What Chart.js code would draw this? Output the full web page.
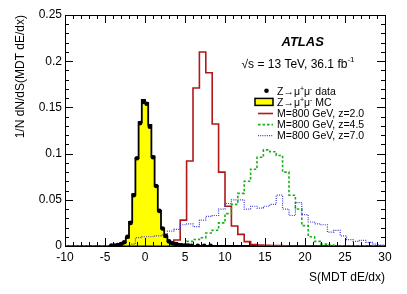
<!DOCTYPE html>
<html>
<head>
<meta charset="utf-8">
<script src="https://cdn.jsdelivr.net/npm/chart.js@4.4.1/dist/chart.umd.min.js"></script>
<style>
  html, body { margin: 0; padding: 0; background: #fff; }
  canvas { display: block; }
</style>
</head>
<body>
<canvas id="myChart" width="407" height="294"></canvas>
<script>
'use strict';

// Z->mumu data and MC, bins of 0.4 starting at -4.4
let zStart = -4.4;
let zWidth = 0.4;
let zMC = [0.0005, 0.001, 0.0015, 0.002, 0.004, 0.009, 0.026, 0.056, 0.095, 0.134, 0.158,
  0.155, 0.131, 0.097, 0.065, 0.038, 0.019, 0.010, 0.005, 0.003, 0.002, 0.001];
let zData = [0.0004, 0.0006, 0.001, 0.002, 0.004, 0.010, 0.025, 0.055, 0.095, 0.133, 0.156,
  0.154, 0.129, 0.096, 0.065, 0.038, 0.019, 0.011, 0.005, 0.003, 0.002, 0.001,
  0.0008, 0.0005, 0.0004, 0.0003, null, 0.0003, null, 0.0002, null, 0.0002];

// signal samples, bins of 0.8
let sigWidth = 0.8;
let z20Start = 3.6;
let z20 = [0.0065, 0.028, 0.092, 0.171, 0.21, 0.1875, 0.132, 0.080, 0.043, 0.0216, 0.0126,
  0.0047, 0.0015, 0.001, 0.0008, 0.0005, 0.0004, 0.0003];
let z45Start = 4.4;
let z45 = [0.002, 0.005, 0.007, 0.009, 0.014, 0.017, 0.025, 0.035, 0.045, 0.057, 0.070, 0.083,
  0.096, 0.104, 0.102, 0.098, 0.080, 0.055, 0.040, 0.022, 0.010, 0.005, 0.002, 0.001];
let z70Start = -2.0;
let z70 = [0.002, 0.009, 0.010, 0.010, 0.011, 0.012, 0.016, 0.018, 0.023, 0.024, 0.021, 0.028,
  0.032, 0.033, 0.040, 0.046, 0.050, 0.050, 0.040, 0.043, 0.041, 0.043, 0.045, 0.055, 0.040,
  0.033, 0.047, 0.034, 0.026, 0.024, 0.023, 0.015, 0.017, 0.011, 0.007, 0.005, 0.006, 0.004,
  0.002, 0.001];

let legendLabels = ['Z\u2192\u03bc+\u03bc- data', 'Z\u2192\u03bc+\u03bc- MC',
  'M=800 GeV, z=2.0', 'M=800 GeV, z=4.5', 'M=800 GeV, z=7.0'];

let xMin = -10, xMax = 30;
let yMin = 0, yMax = 0.25;

function r1(v) {
  return Math.round(v * 100) / 100;
}

// step outline points for a histogram (stepped: 'before')
function histPoints(start, width, values) {
  let pts = [{ x: xMin, y: 0 }, { x: start, y: 0 }];
  for (let i = 0; i < values.length; i++) {
    pts.push({ x: r1(start + i * width), y: values[i] });
  }
  let end = r1(start + values.length * width);
  pts.push({ x: end, y: 0 });
  if (end < xMax) pts.push({ x: xMax, y: 0 });
  return pts;
}

function dataPoints(start, width, values) {
  let pts = [];
  for (let i = 0; i < values.length; i++) {
    if (values[i] !== null) pts.push({ x: r1(start + (i + 0.5) * width), y: values[i] });
  }
  return pts;
}

const RED = 'rgb(175,25,25)';
const GREEN = 'rgb(25,175,25)';
const BLUE = 'rgb(60,60,210)';
const FONT = '"Liberation Sans", Arial, Helvetica, sans-serif';

// draws inward ticks on all four sides plus frame
const frameTicks = {
  id: 'frameTicks',
  afterDraw(chart) {
    const { ctx, chartArea: a, scales: { x, y } } = chart;
    ctx.save();
    ctx.strokeStyle = '#000';
    ctx.lineWidth = 1;
    ctx.beginPath();
    for (let v = xMin; v <= xMax; v++) {
      let px = Math.round(x.getPixelForValue(v)) + 0.5;
      let len = v % 5 === 0 ? 8 : 4;
      ctx.moveTo(px, a.bottom);
      ctx.lineTo(px, a.bottom - len);
      ctx.moveTo(px, a.top);
      ctx.lineTo(px, a.top + len);
    }
    for (let k = 0; k <= 25; k++) {
      let py = Math.round(y.getPixelForValue(k * 0.01)) + 0.5;
      let len = k % 5 === 0 ? 8 : 4;
      ctx.moveTo(a.left, py);
      ctx.lineTo(a.left + len, py);
      ctx.moveTo(a.right, py);
      ctx.lineTo(a.right - len, py);
    }
    ctx.stroke();
    ctx.strokeRect(Math.round(a.left) + 0.5, Math.round(a.top) + 0.5,
      Math.round(a.right - a.left), Math.round(a.bottom - a.top));
    ctx.restore();
  }
};

function richText(ctx, parts, x, y, size) {
  for (let p of parts) {
    if (p.sup) {
      ctx.font = Math.round(size * 0.7) + 'px ' + FONT;
      ctx.fillText(p.t, x, y - size * 0.35);
    } else {
      ctx.font = size + 'px ' + FONT;
      ctx.fillText(p.t, x, y);
    }
    x += ctx.measureText(p.t).width;
  }
}

const atlasLegend = {
  id: 'atlasLegend',
  afterDraw(chart) {
    const ctx = chart.ctx;
    ctx.save();
    ctx.fillStyle = '#000';
    ctx.textBaseline = 'alphabetic';
    ctx.font = 'italic bold 13px ' + FONT;
    ctx.fillText('ATLAS', 281.5, 46);

    ctx.font = '12px ' + FONT;
    let s = '\u221as = 13 TeV, 36.1 fb';
    ctx.fillText(s, 241.5, 67.5);
    let w = ctx.measureText(s).width;
    ctx.font = '8px ' + FONT;
    ctx.fillText('-1', 241.5 + w, 62);

    let tx = 277;
    let size = 10.5;
    for (let i = 0; i < legendLabels.length; i++) {
      let cy = 90.8 + i * 11.1;
      let base = cy + 3.8;
      ctx.fillStyle = '#000';
      if (i < 2) {
        let tail = i === 0 ? ' data' : ' MC';
        richText(ctx, [{ t: 'Z\u2192\u03bc' }, { t: '+', sup: true }, { t: '\u03bc' },
          { t: '-', sup: true }, { t: tail }], tx, base, size);
      } else {
        ctx.font = size + 'px ' + FONT;
        ctx.fillText(legendLabels[i], tx, base);
      }
      if (i === 0) {
        ctx.beginPath();
        ctx.arc(266.5, cy, 2.3, 0, Math.PI * 2);
        ctx.fill();
      } else if (i === 1) {
        ctx.fillStyle = 'rgb(255,255,0)';
        ctx.fillRect(255, cy - 3.5, 18, 7);
        ctx.strokeStyle = '#000';
        ctx.lineWidth = 1.5;
        ctx.strokeRect(255, cy - 3.5, 18, 7);
      } else {
        ctx.beginPath();
        ctx.strokeStyle = [RED, GREEN, BLUE][i - 2];
        ctx.lineWidth = i === 4 ? 1.2 : 1.6;
        ctx.setLineDash(i === 2 ? [] : (i === 3 ? [2.5, 2] : [1, 1.2]));
        ctx.moveTo(258, cy + 0.5);
        ctx.lineTo(273, cy + 0.5);
        ctx.stroke();
        ctx.setLineDash([]);
      }
    }
    ctx.restore();
  }
};

let ctx = document.getElementById('myChart').getContext('2d');
let myChart = new Chart(ctx, {
  type: 'line',
  data: {
    datasets: [
      {
        label: legendLabels[0],
        data: dataPoints(zStart, zWidth, zData),
        showLine: false,
        pointRadius: 2.3,
        pointBackgroundColor: '#000',
        pointBorderWidth: 0,
        order: 0
      },
      {
        label: legendLabels[4],
        data: histPoints(z70Start, sigWidth, z70),
        stepped: true,
        borderColor: BLUE,
        borderWidth: 1.2,
        borderDash: [1, 1.2],
        pointRadius: 0,
        fill: false,
        order: 1
      },
      {
        label: legendLabels[3],
        data: histPoints(z45Start, sigWidth, z45),
        stepped: true,
        borderColor: GREEN,
        borderWidth: 1.6,
        borderDash: [2.5, 2],
        pointRadius: 0,
        fill: false,
        order: 2
      },
      {
        label: legendLabels[2],
        data: histPoints(z20Start, sigWidth, z20),
        stepped: true,
        borderColor: RED,
        borderWidth: 1.6,
        pointRadius: 0,
        fill: false,
        order: 3
      },
      {
        label: legendLabels[1],
        data: histPoints(zStart, zWidth, zMC),
        stepped: true,
        borderColor: '#000',
        borderWidth: 1.8,
        backgroundColor: 'rgb(255,255,0)',
        pointRadius: 0,
        fill: 'origin',
        order: 4
      }
    ]
  },
  options: {
    responsive: false,
    animation: false,
    devicePixelRatio: 1,
    layout: { padding: { top: 15, right: 22, left: 0, bottom: 0 } },
    plugins: {
      legend: { display: false },
      tooltip: { enabled: false }
    },
    scales: {
      x: {
        type: 'linear',
        min: xMin,
        max: xMax,
        afterFit: (s) => { s.height = 48; },
        grid: { display: false, drawTicks: false },
        border: { display: false },
        ticks: {
          stepSize: 5,
          padding: 4,
          color: '#000',
          maxRotation: 0,
          font: { family: FONT, size: 12 }
        },
        title: {
          display: true,
          text: 'S(MDT dE/dx)',
          align: 'end',
          color: '#000',
          padding: { top: 0, bottom: 9 },
          font: { family: FONT, size: 12 }
        }
      },
      y: {
        min: yMin,
        max: yMax,
        afterFit: (s) => { s.width = 65; },
        grid: { display: false, drawTicks: false },
        border: { display: false },
        ticks: {
          stepSize: 0.05,
          padding: 3,
          color: '#000',
          font: { family: FONT, size: 12 },
          callback: (v) => String(+v.toFixed(2))
        },
        title: {
          display: true,
          text: '1/N dN/dS(MDT dE/dx)',
          align: 'end',
          color: '#000',
          padding: { top: 13, bottom: 0 },
          font: { family: FONT, size: 12 }
        }
      }
    }
  },
  plugins: [frameTicks, atlasLegend]
});
</script>
</body>
</html>
